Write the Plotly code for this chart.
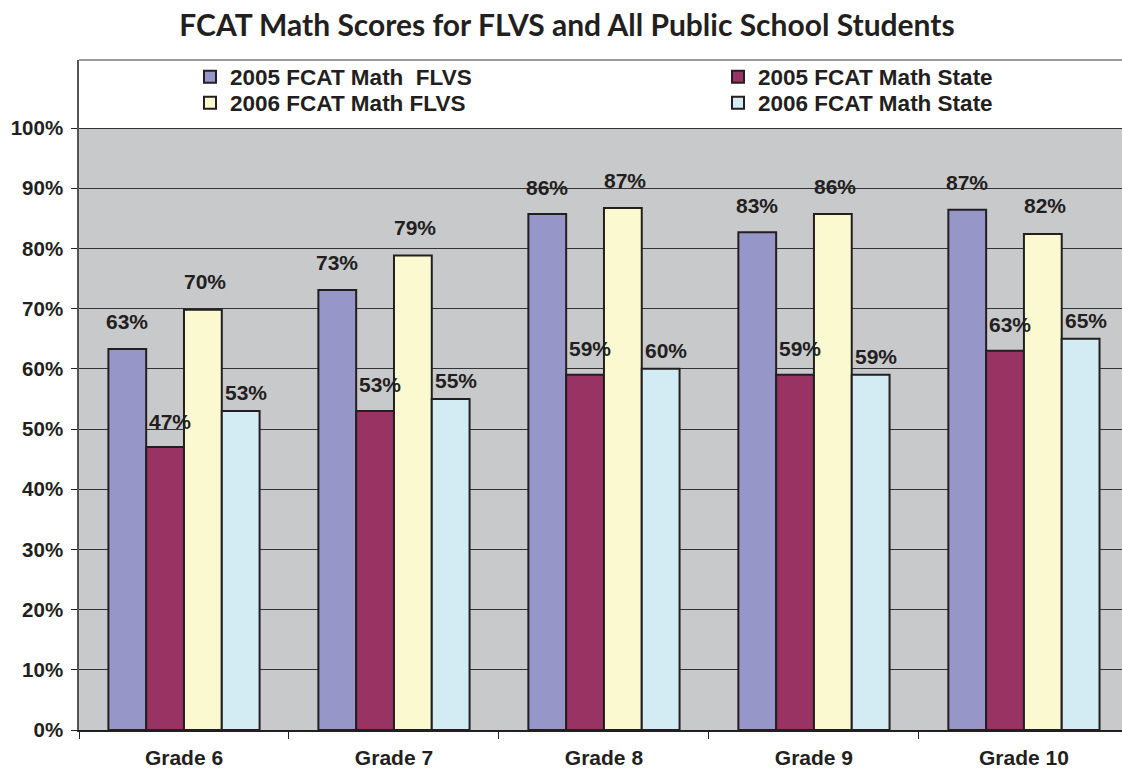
import plotly.graph_objects as go

categories = ["Grade 6", "Grade 7", "Grade 8", "Grade 9", "Grade 10"]
series_names = ["2005 FCAT Math\u00a0 FLVS", "2005 FCAT Math State",
                "2006 FCAT Math FLVS", "2006 FCAT Math State"]
flvs_2005 = [63.3, 73.1, 85.7, 82.7, 86.4]
state_2005 = [47, 53, 59, 59, 63]
flvs_2006 = [69.8, 78.8, 86.7, 85.7, 82.4]
state_2006 = [53, 55, 60, 59, 65]
labels_flvs_2005 = ["63%", "73%", "86%", "83%", "87%"]
labels_state_2005 = ["47%", "53%", "59%", "59%", "63%"]
labels_flvs_2006 = ["70%", "79%", "87%", "86%", "82%"]
labels_state_2006 = ["53%", "55%", "60%", "59%", "65%"]
y_ticks = [0, 10, 20, 30, 40, 50, 60, 70, 80, 90, 100]
y_tick_text = [f"{v}%" for v in y_ticks]

values = [flvs_2005, state_2005, flvs_2006, state_2006]
labels = [labels_flvs_2005, labels_state_2005, labels_flvs_2006, labels_state_2006]
colors = ["#9696c8", "#993363", "#fbf9cf", "#d3ebf2"]
label_yshift = [27, 26, 28, 18]
label_xshift = [0, 5, 2, 5]

INK = "#231f20"
W, H = 1122, 770
ML, MT, MB = 79, 60, 40
PW, PH = W - ML, H - MT - MB
bargap = 0.28
nser = 4
bw = (1 - bargap) / nser

# legend placement (pixel positions of each legend's left edge / row centre)
legend_left_px = [190, 718, 190, 718]
legend_row_px = [77, 77, 103, 103]
legend_ids = ["legend", "legend2", "legend3", "legend4"]

fig = go.Figure()
for k in range(nser):
    fig.add_trace(go.Bar(
        x=categories, y=values[k], name=series_names[k],
        marker=dict(color=colors[k], line=dict(color=INK, width=2)),
        hoverinfo="skip", legend=legend_ids[k],
    ))

annotations = []
for k in range(nser):
    for i, v in enumerate(values[k]):
        annotations.append(dict(
            x=i + (k - (nser - 1) / 2) * bw, y=v, xref="x", yref="y",
            text=labels[k][i], showarrow=False, yanchor="middle",
            yshift=label_yshift[k], xshift=label_xshift[k],
            font=dict(family="Liberation Sans, Arial", size=21, color=INK, weight="bold"),
        ))

legend_layout = {}
for k in range(nser):
    legend_layout[legend_ids[k]] = dict(
        x=(legend_left_px[k] - ML) / PW, xanchor="left",
        y=(H - MB - legend_row_px[k]) / PH, yanchor="middle",
        bgcolor="rgba(0,0,0,0)", borderwidth=0,
        font=dict(family="Liberation Sans, Arial", size=22.5, color=INK, weight="bold"),
    )

fig.update_layout(
    width=W, height=H,
    margin=dict(l=ML, r=0, t=MT, b=MB, autoexpand=False),
    paper_bgcolor="white", plot_bgcolor="white",
    barmode="group", bargap=bargap, bargroupgap=0,
    title=dict(
        text="FCAT Math Scores for FLVS and All Public School Students",
        x=567 / W, xanchor="center", y=1 - 25 / H, yanchor="middle", yref="container",
        font=dict(family="Lato, Noto Sans", size=30, color=INK, weight="bold"),
    ),
    font=dict(family="Liberation Sans, Arial", color=INK),
    showlegend=True,
    xaxis=dict(
        type="category", range=[-0.5, 4.467], automargin=False,
        tickson="boundaries", ticks="outside", ticklen=7, tickcolor=INK, tickwidth=1,
        showline=True, linecolor=INK, linewidth=1.5,
        showgrid=False, ticklabelstandoff=8,
        tickfont=dict(family="Liberation Sans, Arial", size=21, color=INK, weight="bold"),
    ),
    yaxis=dict(
        range=[0, PH / 6.02], tickvals=y_ticks, ticktext=y_tick_text, automargin=False,
        ticks="outside", ticklen=6, tickcolor=INK, tickwidth=1,
        showline=True, linecolor="#555555", linewidth=1.5,
        showgrid=True, gridcolor="#333333", gridwidth=1,
        zeroline=False, ticklabelstandoff=4,
        tickfont=dict(family="Liberation Sans, Arial", size=20.5, color=INK, weight="bold"),
    ),
    annotations=annotations,
    shapes=[
        dict(type="rect", xref="paper", yref="y", x0=0, x1=1, y0=0, y1=100,
             fillcolor="#c8c9cb", line=dict(width=0), layer="below"),
        dict(type="line", xref="paper", yref="paper", x0=0, x1=1, y0=1, y1=1,
             line=dict(color="#777777", width=1.5)),
    ],
    **legend_layout,
)

fig.write_html(
    "out.html",
    config={"displayModeBar": False},
    post_script="document.body.style.margin='0';document.body.style.overflow='hidden';",
)
